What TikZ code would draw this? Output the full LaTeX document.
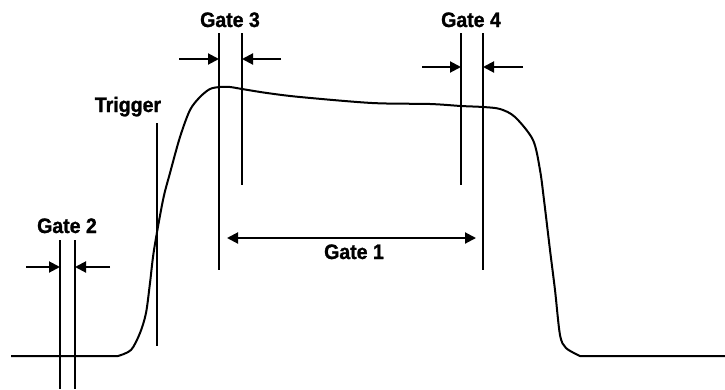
\documentclass[tikz,border=0pt]{standalone}
\usepackage{fontspec}
\setmainfont{Liberation Sans}[FakeStretch=0.93,BoldFeatures={FakeBold=1.2}]
\usetikzlibrary{arrows.meta,positioning,calc}

\begin{document}
\begin{tikzpicture}[x=1pt,y=-1pt,
      font=\fontsize{21}{24}\selectfont\bfseries,
      gateline/.style={line width=2pt},
      pulse/.style={line width=2pt, line join=round},
      pointer/.style={line width=2pt, -{Triangle[length=11pt,width=11pt]}},
      span/.style={line width=2pt, {Triangle[length=11pt,width=11pt]}-{Triangle[length=11pt,width=11pt]}},
      tag/.style={inner sep=0pt, anchor=base}]

    \useasboundingbox (0,0) rectangle (725,389);

    % labels
    \node[tag] (gtwo) at (67,233) {Gate 2};
    \node[tag] (trig) at (128,112) {Trigger};
    \node[tag] (gthree) at (230,27) {Gate 3};
    \node[tag] (gfour) at (471,27) {Gate 4};
    \node[tag] (gone) at (354,259) {Gate 1};

    % the pulse
    \draw[pulse] (11,356) -- (118,356)
      plot[smooth, tension=0.5] coordinates {(118,356) (131,350) (140,333)
        (146,313) (150,283) (154,250) (163,200) (170,173) (180,137)
        (190,110) (200,97) (210,89) (220,87) (230,87) (242,89) (267,93)
        (300,97) (372,103) (430,104) (461,106) (483,107) (500,109)
        (515,117) (533,140) (540,170) (544,200) (550,250) (555,290)
        (560,335) (566,348) (580,356)}
      -- (725,356);

    % gate 2
    \coordinate (g2a) at (60,240);
    \coordinate (g2b) at (75,240);
    \draw[gateline] (g2a) -- (g2a |- 0,389);
    \draw[gateline] (g2b) -- (g2b |- 0,389);
    \draw[pointer] (26,267) -- (g2a |- 0,267);
    \draw[pointer] (110,267) -- (g2b |- 0,267);

    % trigger
    \coordinate (trtop) at (157,123);
    \draw[gateline] (trtop) -- (157,346);

    % gate 3
    \coordinate (g3a) at (219,33);
    \coordinate (g3b) at (242,33);
    \draw[gateline] (g3a) -- (219,270);
    \draw[gateline] (g3b) -- (242,185);
    \draw[pointer] (179,59) -- (g3a |- 0,59);
    \draw[pointer] (281,59) -- (g3b |- 0,59);

    % gate 4
    \coordinate (g4a) at (461,33);
    \coordinate (g4b) at (483,33);
    \draw[gateline] (g4a) -- (461,185);
    \draw[gateline] (g4b) -- (483,270);
    \draw[pointer] (422,67) -- (g4a |- 0,67);
    \draw[pointer] (523,67) -- (g4b |- 0,67);

    % gate 1
    \draw[span] (227,238) -- (476,238);
  \end{tikzpicture}
\end{document}
